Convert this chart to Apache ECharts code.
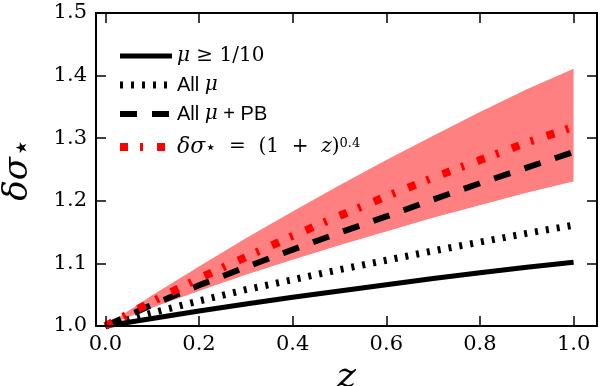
<!DOCTYPE html>
<html>
<head>
<meta charset="utf-8">
<script src="https://cdn.jsdelivr.net/npm/echarts@6/dist/echarts.min.js"></script>
<style>
html, body { margin: 0; padding: 0; background: #fff; }
#container { width: 600px; height: 386px; }
</style>
</head>
<body>
<div id="container"></div>
<script>
// z grid and the curves
var zVals = [0.0, 0.1, 0.2, 0.3, 0.4, 0.5, 0.6, 0.7, 0.8, 0.9, 1.0];
var muCut = [1.0, 1.012, 1.024, 1.035, 1.046, 1.056, 1.066, 1.076, 1.085, 1.094, 1.102];
var allMu = [1.0, 1.021, 1.040, 1.058, 1.074, 1.090, 1.105, 1.120, 1.134, 1.148, 1.161];
var allMuPB = [1.0, 1.034, 1.065, 1.094, 1.122, 1.149, 1.175, 1.202, 1.228, 1.253, 1.278];
var fitLine = [1.0, 1.039, 1.076, 1.110, 1.144, 1.176, 1.207, 1.237, 1.265, 1.293, 1.318];
var bandLow = [1.0, 1.029, 1.056, 1.082, 1.106, 1.129, 1.151, 1.173, 1.193, 1.213, 1.231];
var bandHigh = [1.0, 1.049, 1.095, 1.140, 1.183, 1.225, 1.265, 1.304, 1.342, 1.378, 1.411];
var xTicks = [0.0, 0.2, 0.4, 0.6, 0.8, 1.0];
var names = ['muCut', 'allMu', 'allMuPB', 'fit'];

function pairs(ys) {
  var out = [];
  for (var i = 0; i < zVals.length; i++) out.push([zVals[i], ys[i]]);
  return out;
}

var serif = 'DejaVu Serif';
var sans = 'Liberation Sans';

var dom = document.getElementById('container');
var myChart = echarts.init(dom);

var xBase = {
  type: 'value', min: -0.02, max: 1.05, z: 5,
  splitLine: { show: false },
  axisLine: { onZero: false, lineStyle: { color: '#000', width: 2 } },
  axisTick: { inside: true, length: 10, customValues: xTicks, lineStyle: { color: '#000', width: 1.5 } }
};
var yBase = {
  type: 'value', min: 1.0, max: 1.5, interval: 0.1, z: 5,
  splitLine: { show: false },
  axisLine: { onZero: false, lineStyle: { color: '#000', width: 2 } },
  axisTick: { inside: true, length: 10, lineStyle: { color: '#000', width: 1.5 } }
};

myChart.setOption({
  animation: false,
  textStyle: { fontFamily: serif, color: '#000' },
  grid: { left: 96, right: 3, top: 13, bottom: 60, outerBoundsMode: 'none', containLabel: false },
  xAxis: [
    echarts.util.merge({
      position: 'bottom',
      name: 'z', nameLocation: 'middle', nameGap: 25,
      nameTextStyle: { fontFamily: serif, fontStyle: 'italic', fontSize: 36, color: '#000' },
      axisLabel: {
        customValues: xTicks, margin: 8, color: '#000', fontFamily: serif, fontSize: 21,
        formatter: function (v) { return v.toFixed(1); }
      }
    }, xBase, true),
    echarts.util.merge({ position: 'top', axisLabel: { show: false } }, xBase, true)
  ],
  yAxis: [
    echarts.util.merge({
      position: 'left',
      name: '{a|δσ}{b|⋆}', nameLocation: 'middle', nameGap: 58, nameRotate: 90,
      nameTextStyle: {
        color: '#000',
        rich: {
          a: { fontFamily: serif, fontStyle: 'italic', fontSize: 34, color: '#000', lineHeight: 40 },
          b: { fontFamily: serif, fontSize: 30, color: '#000', verticalAlign: 'bottom', lineHeight: 40, padding: [10, 0, 0, 0] }
        }
      },
      axisLabel: {
        margin: 9, color: '#000', fontFamily: serif, fontSize: 21,
        formatter: function (v) { return v.toFixed(1); }
      }
    }, yBase, true),
    echarts.util.merge({ position: 'right', axisLabel: { show: false } }, yBase, true)
  ],
  legend: {
    data: [
      { name: 'muCut', lineStyle: { width: 5 } },
      { name: 'allMu', lineStyle: { width: 7 } },
      { name: 'allMuPB', lineStyle: { width: 6 } },
      { name: 'fit', lineStyle: { width: 8 } }
    ],
    orient: 'vertical',
    left: 111, top: 41,
    itemWidth: 52, itemHeight: 14, itemGap: 9,
    itemStyle: { opacity: 0 },
    textStyle: {
      color: '#000', fontSize: 20, fontFamily: serif, lineHeight: 20,
      rich: {
        it: { fontFamily: serif, fontStyle: 'italic', fontSize: 20, color: '#000', lineHeight: 20 },
        it2: { fontFamily: serif, fontStyle: 'italic', fontSize: 22, color: '#000', lineHeight: 20 },
        rm: { fontFamily: serif, fontSize: 20, color: '#000', lineHeight: 20 },
        sa: { fontFamily: sans, fontSize: 20, color: '#000', lineHeight: 20 },
        sub: { fontFamily: serif, fontSize: 18, color: '#000', lineHeight: 20, verticalAlign: 'bottom', padding: [6, 0, 0, 0] },
        sup: { fontFamily: serif, fontSize: 13, color: '#000', lineHeight: 20, verticalAlign: 'top', padding: [0, 0, 6, 0] }
      }
    },
    formatter: function (n) {
      if (n === 'muCut') return '{it|μ} {rm|≥ 1/10}';
      if (n === 'allMu') return '{sa|All }{it|μ}';
      if (n === 'allMuPB') return '{sa|All }{it|μ}{sa| + PB}';
      return '{it2|δσ}{sub|⋆}{rm|  =  (1  +  }{it|z}{rm|)}{sup|0.4}';
    }
  },
  series: [
    {
      name: 'bandHigh', type: 'line', data: pairs(bandHigh), z: 1,
      symbol: 'none', silent: true,
      lineStyle: { width: 0, opacity: 0 },
      areaStyle: { color: '#ff8080', opacity: 1 }
    },
    {
      name: 'bandLow', type: 'line', data: pairs(bandLow), z: 1,
      symbol: 'none', silent: true,
      lineStyle: { width: 0, opacity: 0 },
      areaStyle: { color: '#ffffff', opacity: 1, shadowColor: '#ffffff', shadowBlur: 0, shadowOffsetX: 1 }
    },
    {
      name: 'muCut', type: 'line', data: pairs(muCut), symbol: 'none', z: 3,
      lineStyle: { color: '#000', width: 5 }, itemStyle: { color: '#000' }
    },
    {
      name: 'allMu', type: 'line', data: pairs(allMu), symbol: 'none', z: 3,
      lineStyle: { color: '#000', width: 7, type: [3, 8] }, itemStyle: { color: '#000' }
    },
    {
      name: 'allMuPB', type: 'line', data: pairs(allMuPB), symbol: 'none', z: 3,
      lineStyle: { color: '#000', width: 6, type: [17, 15] }, itemStyle: { color: '#000' }
    },
    {
      name: 'fit', type: 'line', data: pairs(fitLine), symbol: 'none', z: 3,
      lineStyle: { color: '#ff0000', width: 8, type: [8, 12, 3, 14] }, itemStyle: { color: '#ff0000' }
    }
  ]
});
</script>
</body>
</html>
